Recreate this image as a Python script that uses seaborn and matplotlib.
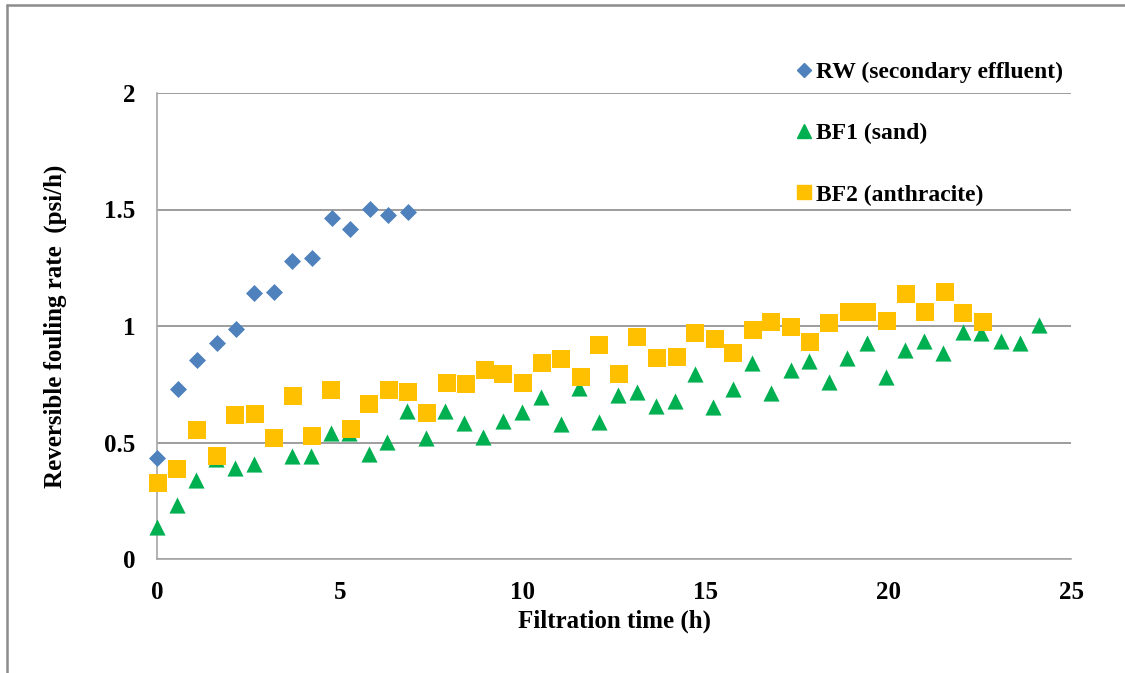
import numpy as np
import pandas as pd
import matplotlib
matplotlib.use("Agg")
import matplotlib.pyplot as plt
import seaborn as sns
from matplotlib.lines import Line2D
from matplotlib.ticker import MultipleLocator

# Values
time_rw = [0.01, 0.57, 1.10, 1.63, 2.15, 2.66, 3.19, 3.70, 4.24, 4.78, 5.28, 5.82, 6.33, 6.87]
rate_rw = [0.432, 0.730, 0.854, 0.926, 0.987, 1.143, 1.147, 1.279, 1.293, 1.462, 1.415, 1.501, 1.476, 1.491]

time_bf1 = [0.01, 0.55, 1.08, 1.62, 2.13, 2.64, 3.16, 3.70, 4.21, 4.75, 5.26, 5.80, 6.30, 6.84, 7.36, 7.88,
            8.41, 8.93, 9.46, 9.97, 10.50, 11.04, 11.55, 12.08, 12.60, 13.13, 13.66, 14.17, 14.71, 15.21,
            15.75, 16.27, 16.79, 17.33, 17.84, 18.37, 18.88, 19.41, 19.95, 20.45, 20.98, 21.50, 22.04,
            22.54, 23.08, 23.61, 24.12]
rate_bf1 = [0.137, 0.232, 0.339, 0.430, 0.392, 0.406, 0.525, 0.442, 0.442, 0.542, 0.539, 0.451, 0.503, 0.636,
            0.518, 0.636, 0.585, 0.522, 0.594, 0.632, 0.697, 0.579, 0.733, 0.589, 0.704, 0.718, 0.657, 0.679,
            0.794, 0.651, 0.728, 0.840, 0.714, 0.811, 0.851, 0.760, 0.863, 0.926, 0.782, 0.897, 0.936, 0.883,
            0.973, 0.969, 0.937, 0.928, 1.004]

time_bf2 = [0.02, 0.55, 1.09, 1.64, 2.14, 2.67, 3.19, 3.72, 4.23, 4.77, 5.30, 5.81, 6.35, 6.86, 7.39, 7.92,
            8.44, 8.97, 9.47, 10.01, 10.52, 11.05, 11.59, 12.09, 12.63, 13.14, 13.67, 14.21, 14.72, 15.25,
            15.76, 16.29, 16.80, 17.34, 17.86, 18.38, 18.92, 19.42, 19.96, 20.49, 21.01, 21.54, 22.04, 22.58]
rate_bf2 = [0.328, 0.388, 0.552, 0.443, 0.618, 0.624, 0.519, 0.698, 0.528, 0.727, 0.557, 0.665, 0.727, 0.717,
            0.627, 0.755, 0.751, 0.811, 0.793, 0.755, 0.840, 0.858, 0.782, 0.920, 0.793, 0.953, 0.863, 0.868,
            0.971, 0.943, 0.883, 0.981, 1.019, 0.994, 0.930, 1.014, 1.060, 1.060, 1.023, 1.136, 1.060, 1.145,
            1.056, 1.019]

labels = ["RW (secondary effluent)", "BF1 (sand)", "BF2 (anthracite)"]
colors = ["#4F81BD", "#00B050", "#FFC000"]

rw = pd.DataFrame({"time": time_rw, "rate": rate_rw})
bf1 = pd.DataFrame({"time": time_bf1, "rate": rate_bf1})
bf2 = pd.DataFrame({"time": time_bf2, "rate": rate_bf2})

sns.set_style("white")
plt.rcParams["font.family"] = ["Liberation Serif", "DejaVu Serif"]
plt.rcParams["font.weight"] = "bold"
plt.rcParams["text.color"] = "black"
plt.rcParams["axes.labelcolor"] = "black"
plt.rcParams["xtick.labelcolor"] = "black"
plt.rcParams["ytick.labelcolor"] = "black"

fig = plt.figure(figsize=(11.25, 6.73), dpi=100)
ax = fig.add_axes([157 / 1125, 114 / 673, 914 / 1125, 466 / 673])

grey = "#8C8C8C"

sns.scatterplot(data=rw, x="time", y="rate", marker="D", color=colors[0], s=75, linewidth=0,
                ax=ax, clip_on=False, zorder=3)
sns.scatterplot(data=bf1, x="time", y="rate", marker="^", color=colors[1], s=135, linewidth=0,
                ax=ax, clip_on=False, zorder=4)
sns.scatterplot(data=bf2, x="time", y="rate", marker="s", color=colors[2], s=150, linewidth=0,
                ax=ax, clip_on=False, zorder=5)

ax.set_xlim(0, 25)
ax.set_ylim(0, 2)
ax.xaxis.set_major_locator(MultipleLocator(5))
ax.xaxis.set_minor_locator(MultipleLocator(1))
ax.yaxis.set_major_locator(MultipleLocator(0.5))
ax.yaxis.set_minor_locator(MultipleLocator(0.1))
ax.yaxis.set_major_formatter(plt.FuncFormatter(lambda v, p: f"{v:g}"))

ax.grid(axis="y", which="major", color=grey, linewidth=1.2)
ax.set_axisbelow(True)

for side in ["top", "right"]:
    ax.spines[side].set_visible(False)
for side in ["left", "bottom"]:
    ax.spines[side].set_color("#A6A6A6")
    ax.spines[side].set_linewidth(1.2)

ax.tick_params(axis="x", which="major", direction="inout", length=11, width=1, color="#A6A6A6",
               labelsize=18, pad=10)
ax.tick_params(axis="x", which="minor", direction="in", length=4.5, width=1, color="#A6A6A6")
ax.tick_params(axis="y", which="major", direction="out", length=6.5, width=1, color=grey,
               labelsize=18, pad=9)
ax.tick_params(axis="y", which="minor", direction="in", length=4.5, width=1, color="#A6A6A6")
for lab in ax.get_xticklabels() + ax.get_yticklabels():
    lab.set_fontweight("bold")

ax.set_xlabel("Filtration time (h)", fontsize=18, fontweight="bold", labelpad=4)
ax.set_ylabel("Reversible fouling rate  (psi/h)", fontsize=18, fontweight="bold", labelpad=27)

handles = [
    Line2D([], [], marker="D", color=colors[0], linestyle="none", markersize=7),
    Line2D([], [], marker="^", color=colors[1], linestyle="none", markersize=10),
    Line2D([], [], marker="s", color=colors[2], linestyle="none", markersize=10.5),
]
leg = fig.legend(handles, labels, loc="upper left", bbox_to_anchor=(785 / 1125, 1 - 50 / 673),
                 frameon=False, fontsize=17, handlelength=0.6, handletextpad=0.2,
                 labelspacing=1.68, borderpad=0)
for t in leg.get_texts():
    t.set_fontweight("bold")

# frame line on left and top of the picture
fig.add_artist(Line2D([7 / 1125, 7 / 1125], [0, 1 - 5 / 673], color=grey, linewidth=1.8,
                      transform=fig.transFigure))
fig.add_artist(Line2D([7 / 1125, 1], [1 - 5 / 673, 1 - 5 / 673], color=grey, linewidth=1.8,
                      transform=fig.transFigure))

fig.savefig("out.png", dpi=100)
